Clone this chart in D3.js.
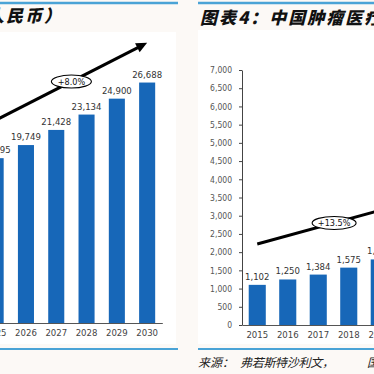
<!DOCTYPE html>
<html><head><meta charset="utf-8">
<script src="https://cdn.jsdelivr.net/npm/d3@7"></script>
<style>html,body{margin:0;padding:0;background:#fcf9f6;overflow:hidden}</style>
</head><body>
<script>
// Left chart (market size, RMB)
const leftCats = ["2025","2026","2027","2028","2029","2030"];
const leftVals = [18295, 19749, 21428, 23134, 24900, 26688];
const leftTrend = [{cat:"2025", v:22500}, {cat:"2030", v:31100}];
const leftCagr = "+8.0%";
const leftTitle = "图表3：中国医疗服务市场规模（亿人民币）";

// Right chart
const rightCats = ["2015","2016","2017","2018","2019"];
const rightVals = [1102, 1250, 1384, 1575, 1800];
const rightTicks = d3.range(0, 7001, 500);
const rightTrend = [{cat:"2015", v:2223}, {cat:"2019", v:3140}];
const rightCagr = "+13.5%";
const rightTitle = "图表4：中国肿瘤医疗服务市场规模（亿人民币）";
const sourceA = "来源：";
const sourceB = "弗若斯特沙利文，";
const sourceC = "国泰君安证券研究";

const W = 374, H = 374;
const BAR = "#1767b8", BLUE_LINE = "#4aa3d6";
const svg = d3.select("body").append("svg").attr("width", W).attr("height", H);
svg.append("rect").attr("width", W).attr("height", H).attr("fill", "#fcf9f6");

// panels
svg.append("rect").attr("x", 0).attr("y", 32).attr("width", 176).attr("height", 312).attr("fill", "#fff");
svg.append("rect").attr("x", 198).attr("y", 30).attr("width", 176).attr("height", 314).attr("fill", "#fff");

// blue rules
[[0,178],[198,374]].forEach(([a,b]) => {
  svg.append("line").attr("x1", a).attr("x2", b).attr("y1", 3).attr("y2", 3).attr("stroke", BLUE_LINE).attr("stroke-width", 2.5);
  svg.append("line").attr("x1", a).attr("x2", b).attr("y1", 349).attr("y2", 349).attr("stroke", BLUE_LINE).attr("stroke-width", 2);
});

const titleFont = "'Noto Sans CJK SC', sans-serif";
svg.append("text").attr("x", 63).attr("y", 22).attr("text-anchor", "end")
  .attr("font-family", titleFont).attr("font-size", 17).attr("font-weight", 900)
  .attr("font-style", "italic").attr("letter-spacing", 2).attr("fill", "#111").text(leftTitle);
svg.append("text").attr("x", 200).attr("y", 24)
  .attr("font-family", titleFont).attr("font-size", 17).attr("font-weight", 900)
  .attr("font-style", "italic").attr("letter-spacing", 2).attr("fill", "#111").text(rightTitle);

const srcStyle = s => s.attr("font-family", titleFont).attr("font-size", 12).attr("font-style", "italic").attr("fill", "#222");
srcStyle(svg.append("text").attr("x", 198).attr("y", 367).text(sourceA));
srcStyle(svg.append("text").attr("x", 240).attr("y", 367).attr("letter-spacing", -0.3).text(sourceB));
srcStyle(svg.append("text").attr("x", 367).attr("y", 367).text(sourceC));

const numFont = "'Liberation Sans Narrow', 'DejaVu Sans Condensed', sans-serif";

function trend(g, x, y, pts, label, arrow, t, ew) {
  const p0 = [x(pts[0].cat) + x.bandwidth()/2, y(pts[0].v)];
  const p1 = [x(pts[1].cat) + x.bandwidth()/2, y(pts[1].v)];
  let end = p1;
  if (arrow) {
    const dx = p1[0]-p0[0], dy = p1[1]-p0[1], L = Math.hypot(dx, dy);
    const ux = dx/L, uy = dy/L, al = 11, aw = 5;
    end = [p1[0] - ux*al*0.8, p1[1] - uy*al*0.8];
    g.append("path").attr("d", `M${p1[0]},${p1[1]} L${p1[0]-ux*al - uy*aw},${p1[1]-uy*al + ux*aw} L${p1[0]-ux*al + uy*aw},${p1[1]-uy*al - ux*aw} Z`).attr("fill", "#000");
  }
  g.append("line").attr("x1", p0[0]).attr("y1", p0[1]).attr("x2", end[0]).attr("y2", end[1])
    .attr("stroke", "#000").attr("stroke-width", 3);
  const cx = p0[0] + (p1[0]-p0[0])*t, cy = p0[1] + (p1[1]-p0[1])*t;
  g.append("ellipse").attr("cx", cx).attr("cy", cy).attr("rx", ew/2).attr("ry", 6.5)
    .attr("fill", "#fff").attr("stroke", "#000").attr("stroke-width", 1.1);
  g.append("text").attr("x", cx).attr("y", cy + 3.2).attr("text-anchor", "middle")
    .attr("font-family", numFont).attr("font-size", 9).attr("fill", "#111").text(label);
}

// ---- Left chart ----
{
  const g = svg.append("g");
  const x = d3.scaleBand().domain(leftCats).range([-19.5, 162.3]).paddingInner(0.47).paddingOuter(0.235);
  const y = d3.scaleLinear().domain([0, 30000]).range([323, 52.7]);
  g.selectAll("rect.bar").data(leftVals).join("rect").attr("class", "bar")
    .attr("x", (d,i) => x(leftCats[i])).attr("width", x.bandwidth())
    .attr("y", d => y(d)).attr("height", d => y(0) - y(d)).attr("fill", BAR);
  g.selectAll("text.val").data(leftVals).join("text").attr("class", "val")
    .attr("x", (d,i) => x(leftCats[i]) + x.bandwidth()/2).attr("y", d => y(d) - 5)
    .attr("text-anchor", "middle").attr("font-family", numFont).attr("font-size", 9.5).attr("fill", "#333")
    .text(d => d3.format(",")(d));
  const ax = g.append("g").attr("transform", `translate(0,${y(0)})`)
    .call(d3.axisBottom(x).tickSize(0).tickPadding(6));
  ax.select(".domain").attr("stroke", "#555");
  ax.selectAll("text").attr("font-family", numFont).attr("font-size", 9.5).attr("fill", "#444");
  trend(g, x, y, leftTrend, leftCagr, true, 0.5, 40);
}

// ---- Right chart ----
{
  const g = svg.append("g");
  const x = d3.scaleBand().domain(rightCats).range([242, 394.5]).paddingInner(0.44).paddingOuter(0.22);
  const y = d3.scaleLinear().domain([0, 7000]).range([325, 70]);
  const ay = g.append("g").attr("transform", `translate(242,0)`)
    .call(d3.axisLeft(y).tickValues(rightTicks).tickFormat(d3.format(",")).tickSizeInner(3).tickSizeOuter(0).tickPadding(7));
  ay.selectAll("path,line").attr("stroke", "#444");
  ay.selectAll("text").attr("font-family", numFont).attr("font-size", 8.5).attr("fill", "#555");
  g.selectAll("rect.bar").data(rightVals).join("rect").attr("class", "bar")
    .attr("x", (d,i) => x(rightCats[i])).attr("width", x.bandwidth())
    .attr("y", d => y(d)).attr("height", d => y(0) - y(d)).attr("fill", BAR);
  g.selectAll("text.val").data(rightVals).join("text").attr("class", "val")
    .attr("x", (d,i) => x(rightCats[i]) + x.bandwidth()/2).attr("y", d => y(d) - 5)
    .attr("text-anchor", "middle").attr("font-family", numFont).attr("font-size", 9.5).attr("fill", "#333")
    .text(d => d3.format(",")(d));
  const ax = g.append("g").attr("transform", `translate(0,${y(0)})`)
    .call(d3.axisBottom(x).tickSize(0).tickPadding(6));
  ax.select(".domain").attr("stroke", "#555");
  ax.selectAll("text").attr("font-family", numFont).attr("font-size", 9.5).attr("fill", "#444");
  trend(g, x, y, rightTrend, rightCagr, false, 0.63, 44);
}
</script>
</body></html>
